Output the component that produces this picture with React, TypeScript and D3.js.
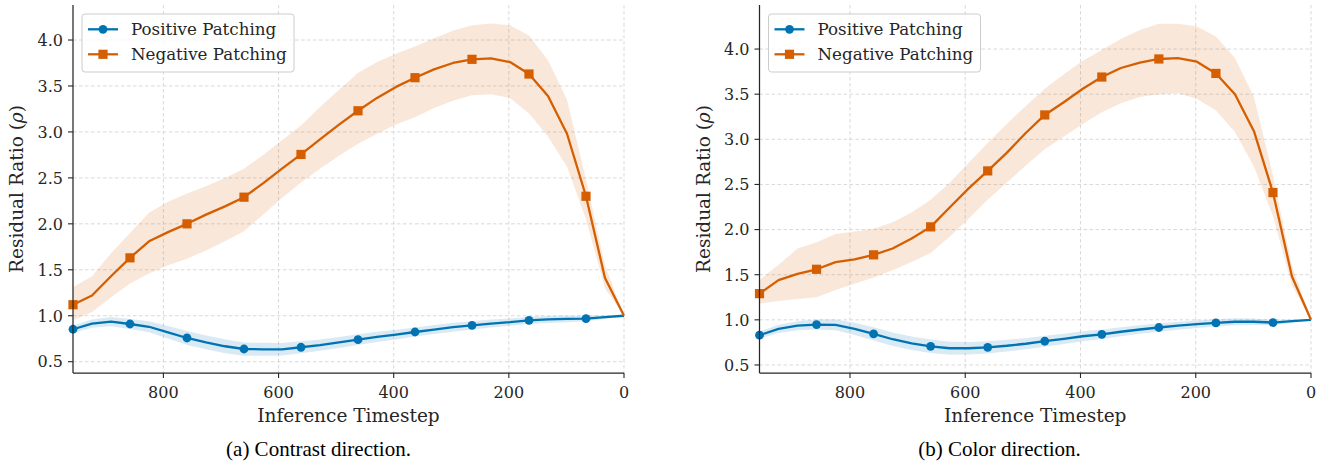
import React from "react";
import * as d3 from "d3";

const timesteps = [957, 924, 891, 858, 825, 792, 759, 726, 693, 660, 627, 594, 561, 528, 495, 462, 429, 396, 363, 330, 297, 264, 231, 198, 165, 132, 99, 66, 33, 0];
const xTicks = [800, 600, 400, 200, 0];
const yTicks = [0.5, 1.0, 1.5, 2.0, 2.5, 3.0, 3.5, 4.0];
const seriesNames = ["Positive Patching", "Negative Patching"];

// (a) Contrast direction
const contrastPos = [0.853, 0.915, 0.935, 0.91, 0.88, 0.82, 0.758, 0.71, 0.668, 0.638, 0.635, 0.635, 0.657, 0.68, 0.71, 0.74, 0.77, 0.795, 0.823, 0.85, 0.875, 0.896, 0.915, 0.93, 0.95, 0.96, 0.965, 0.969, 0.985, 1.0];
const contrastPosLo = [0.813, 0.87, 0.885, 0.855, 0.82, 0.752, 0.683, 0.635, 0.593, 0.566, 0.565, 0.567, 0.592, 0.618, 0.65, 0.682, 0.715, 0.742, 0.773, 0.8, 0.827, 0.851, 0.872, 0.89, 0.91, 0.922, 0.93, 0.939, 0.965, 1.0];
const contrastPosHi = [0.893, 0.96, 0.985, 0.965, 0.94, 0.888, 0.833, 0.785, 0.743, 0.71, 0.705, 0.703, 0.722, 0.742, 0.77, 0.798, 0.825, 0.848, 0.873, 0.9, 0.923, 0.941, 0.958, 0.97, 0.99, 0.998, 1.0, 0.999, 1.005, 1.0];
const contrastNeg = [1.12, 1.22, 1.43, 1.63, 1.81, 1.91, 2.0, 2.1, 2.19, 2.29, 2.44, 2.6, 2.755, 2.92, 3.08, 3.23, 3.37, 3.49, 3.59, 3.68, 3.75, 3.79, 3.8, 3.76, 3.63, 3.39, 2.98, 2.3, 1.41, 1.0];
const contrastNegLo = [0.95, 1.04, 1.2, 1.35, 1.46, 1.55, 1.62, 1.71, 1.81, 1.92, 2.1, 2.28, 2.45, 2.6, 2.74, 2.87, 2.98, 3.08, 3.16, 3.26, 3.34, 3.4, 3.41, 3.37, 3.2, 2.95, 2.62, 2.05, 1.3, 1.0];
const contrastNegHi = [1.31, 1.43, 1.68, 1.9, 2.12, 2.24, 2.33, 2.41, 2.5, 2.6, 2.75, 2.91, 3.07, 3.27, 3.46, 3.64, 3.76, 3.85, 3.93, 4.02, 4.1, 4.16, 4.18, 4.16, 4.05, 3.78, 3.35, 2.48, 1.55, 1.0];

// (b) Color direction
const colorPos = [0.83, 0.9, 0.935, 0.948, 0.944, 0.9, 0.844, 0.785, 0.74, 0.707, 0.685, 0.685, 0.696, 0.713, 0.735, 0.763, 0.79, 0.818, 0.84, 0.868, 0.893, 0.915, 0.935, 0.952, 0.966, 0.979, 0.979, 0.97, 0.985, 1.0];
const colorPosLo = [0.79, 0.855, 0.885, 0.893, 0.884, 0.832, 0.77, 0.71, 0.665, 0.633, 0.613, 0.615, 0.628, 0.648, 0.673, 0.703, 0.733, 0.763, 0.788, 0.818, 0.845, 0.869, 0.891, 0.91, 0.926, 0.941, 0.944, 0.94, 0.965, 1.0];
const colorPosHi = [0.87, 0.945, 0.985, 1.003, 1.004, 0.968, 0.918, 0.86, 0.815, 0.781, 0.757, 0.755, 0.764, 0.778, 0.797, 0.823, 0.847, 0.873, 0.892, 0.918, 0.941, 0.961, 0.979, 0.994, 1.006, 1.017, 1.014, 1.0, 1.005, 1.0];
const colorNeg = [1.29, 1.44, 1.51, 1.56, 1.64, 1.67, 1.72, 1.79, 1.9, 2.03, 2.245, 2.456, 2.65, 2.85, 3.07, 3.27, 3.41, 3.56, 3.69, 3.79, 3.85, 3.89, 3.9, 3.86, 3.73, 3.5, 3.09, 2.41, 1.48, 1.0];
const colorNegLo = [1.18, 1.21, 1.23, 1.25, 1.33, 1.4, 1.47, 1.55, 1.64, 1.74, 1.92, 2.12, 2.33, 2.52, 2.71, 2.89, 3.03, 3.17, 3.3, 3.4, 3.47, 3.5, 3.51, 3.45, 3.32, 3.08, 2.7, 2.15, 1.38, 1.0];
const colorNegHi = [1.44, 1.61, 1.79, 1.86, 1.95, 1.98, 2.01, 2.08, 2.19, 2.33, 2.52, 2.74, 2.96, 3.17, 3.37, 3.56, 3.72, 3.87, 3.99, 4.11, 4.21, 4.28, 4.28, 4.25, 4.14, 3.9, 3.47, 2.6, 1.6, 1.0];

const BLUE = "#0173B2";
const ORANGE = "#D55E00";
const FONT = "'DejaVu Serif', serif";
const CAPFONT = "'Liberation Serif', 'Times New Roman', serif";

type PanelProps = {
  left: number;
  right: number;
  top: number;
  bottom: number;
  yDomain: [number, number];
  pos: number[]; posLo: number[]; posHi: number[];
  neg: number[]; negLo: number[]; negHi: number[];
  caption: string;
  captionX: number;
};

function Panel(p: PanelProps) {
  const x = d3.scaleLinear().domain([957, 0]).range([p.left, p.right]);
  const y = d3.scaleLinear().domain(p.yDomain).range([p.bottom, p.top]);
  const idx = d3.range(timesteps.length);
  const line = (vals: number[]) =>
    d3.line<number>().x(i => x(timesteps[i])).y(i => y(vals[i]))(idx) || "";
  const area = (lo: number[], hi: number[]) =>
    d3.area<number>().x(i => x(timesteps[i])).y0(i => y(lo[i])).y1(i => y(hi[i]))(idx) || "";
  const markIdx = idx.filter(i => i % 3 === 0 && i < timesteps.length - 1);
  const cx = (p.left + p.right) / 2;
  const cy = (p.top + p.bottom) / 2;
  const lg = { x: p.left + 9, y: 14, w: 212, h: 58 };
  return (
    <g>
      {/* grid */}
      {xTicks.map(t => (
        <line key={"gx" + t} x1={x(t)} x2={x(t)} y1={p.top} y2={p.bottom}
          stroke="#cfcfcf" strokeWidth={0.8} strokeDasharray="3.5,2.5" />
      ))}
      {yTicks.map(t => (
        <line key={"gy" + t} x1={p.left} x2={p.right} y1={y(t)} y2={y(t)}
          stroke="#cfcfcf" strokeWidth={0.8} strokeDasharray="3.5,2.5" />
      ))}
      {/* bands */}
      <path d={area(p.posLo, p.posHi)} fill={BLUE} fillOpacity={0.15} />
      <path d={area(p.negLo, p.negHi)} fill={ORANGE} fillOpacity={0.15} />
      {/* lines */}
      <path d={line(p.pos)} fill="none" stroke={BLUE} strokeWidth={2.3} strokeLinejoin="round" />
      <path d={line(p.neg)} fill="none" stroke={ORANGE} strokeWidth={2.3} strokeLinejoin="round" />
      {markIdx.map(i => (
        <circle key={"c" + i} cx={x(timesteps[i])} cy={y(p.pos[i])} r={4.4} fill={BLUE} />
      ))}
      {markIdx.map(i => (
        <rect key={"s" + i} x={x(timesteps[i]) - 4.6} y={y(p.neg[i]) - 4.6} width={9.2} height={9.2} fill={ORANGE} />
      ))}
      {/* spines */}
      <line x1={p.left} x2={p.left} y1={p.top} y2={p.bottom} stroke="#262626" strokeWidth={1.25} />
      <line x1={p.left} x2={p.right} y1={p.bottom} y2={p.bottom} stroke="#262626" strokeWidth={1.25} />
      {/* ticks */}
      {xTicks.map(t => (
        <g key={"tx" + t}>
          <line x1={x(t)} x2={x(t)} y1={p.bottom} y2={p.bottom + 5} stroke="#262626" strokeWidth={1.1} />
          <text x={x(t)} y={p.bottom + 25} textAnchor="middle" fontFamily={FONT} fontSize={16} fill="#262626">{t}</text>
        </g>
      ))}
      {yTicks.map(t => (
        <g key={"ty" + t}>
          <line x1={p.left - 5} x2={p.left} y1={y(t)} y2={y(t)} stroke="#262626" strokeWidth={1.1} />
          <text x={p.left - 10} y={y(t) + 5.8} textAnchor="end" fontFamily={FONT} fontSize={16} fill="#262626">{t.toFixed(1)}</text>
        </g>
      ))}
      {/* axis labels */}
      <text x={cx} y={p.bottom + 48.5} textAnchor="middle" fontFamily={FONT} fontSize={18.5} fill="#262626">Inference Timestep</text>
      <text transform={`translate(${p.left - 50},${cy}) rotate(-90)`} textAnchor="middle" fontFamily={FONT} fontSize={18.5} fill="#262626">
        Residual Ratio (<tspan fontStyle="italic">ρ</tspan>)
      </text>
      {/* legend */}
      <rect x={lg.x} y={lg.y} width={lg.w} height={lg.h} rx={3} fill="#ffffff" fillOpacity={0.8} stroke="#cccccc" strokeWidth={1} />
      {seriesNames.map((name, k) => {
        const ry = lg.y + 15.3 + k * 25;
        const col = k === 0 ? BLUE : ORANGE;
        return (
          <g key={name}>
            <line x1={lg.x + 6} x2={lg.x + 36} y1={ry} y2={ry} stroke={col} strokeWidth={2.3} />
            {k === 0 ? (
              <circle cx={lg.x + 21} cy={ry} r={4.4} fill={col} />
            ) : (
              <rect x={lg.x + 21 - 4.6} y={ry - 4.6} width={9.2} height={9.2} fill={col} />
            )}
            <text x={lg.x + 49} y={ry + 6.1} fontFamily={FONT} fontSize={16.7} fill="#262626">{name}</text>
          </g>
        );
      })}
      {/* caption */}
      <text x={p.captionX} y={455.5} textAnchor="middle" fontFamily={CAPFONT} fontSize={21} fill="#000">{p.caption}</text>
    </g>
  );
}

export default function App() {
  return (
    <svg width={1335} height={465} viewBox="0 0 1335 465"
      style={{ position: "absolute", left: 0, top: 0, background: "#fff" }}>
      <rect x={0} y={0} width={1335} height={465} fill="#fff" />
      <Panel left={73} right={624} top={5} bottom={373} yDomain={[0.377, 4.381]}
        pos={contrastPos} posLo={contrastPosLo} posHi={contrastPosHi}
        neg={contrastNeg} negLo={contrastNegLo} negHi={contrastNegHi}
        caption="(a) Contrast direction." captionX={318.5} />
      <Panel left={759.5} right={1311} top={5} bottom={373} yDomain={[0.411, 4.488]}
        pos={colorPos} posLo={colorPosLo} posHi={colorPosHi}
        neg={colorNeg} negLo={colorNegLo} negHi={colorNegHi}
        caption="(b) Color direction." captionX={999.5} />
    </svg>
  );
}
